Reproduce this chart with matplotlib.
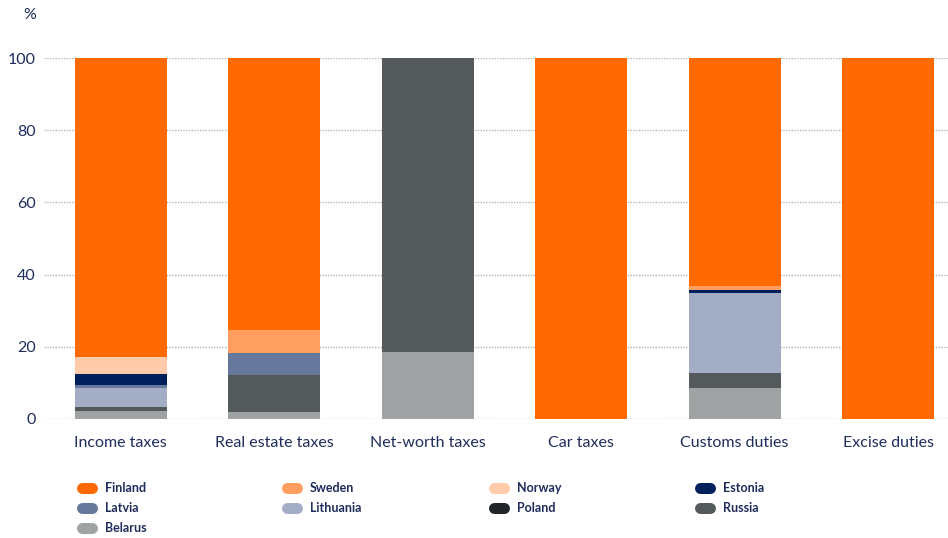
import matplotlib
matplotlib.use("Agg")
import matplotlib.pyplot as plt
from matplotlib.lines import Line2D
import numpy as np

categories = ["Income taxes", "Real estate taxes", "Net-worth taxes", "Car taxes", "Customs duties", "Excise duties"]
countries = ["Finland", "Sweden", "Norway", "Estonia", "Latvia", "Lithuania", "Poland", "Russia", "Belarus"]
colors = ["#FF6A00", "#FF9E5E", "#FFCBAA", "#00205B", "#66789C", "#A3AEC6", "#232629", "#54595C", "#A0A3A3"]

# values per category (stack order bottom -> top: Belarus, Russia, Poland, Lithuania, Latvia, Estonia, Norway, Sweden, Finland)
finland   = [82.9, 75.4, 0.0, 100.0, 63.1, 100.0]
sweden    = [0.0, 6.4, 0.0, 0.0, 1.1, 0.0]
norway    = [4.7, 0.0, 0.0, 0.0, 0.0, 0.0]
estonia   = [3.0, 0.0, 0.0, 0.0, 0.8, 0.0]
latvia    = [0.8, 6.1, 0.0, 0.0, 0.0, 0.0]
lithuania = [5.3, 0.0, 0.0, 0.0, 22.2, 0.0]
poland    = [0.0, 0.0, 0.0, 0.0, 0.0, 0.0]
russia    = [1.1, 10.2, 81.4, 0.0, 4.2, 0.0]
belarus   = [2.2, 1.9, 18.6, 0.0, 8.6, 0.0]

series = {"Finland": finland, "Sweden": sweden, "Norway": norway, "Estonia": estonia,
          "Latvia": latvia, "Lithuania": lithuania, "Poland": poland, "Russia": russia,
          "Belarus": belarus}
yticks = [0, 20, 40, 60, 80, 100]

navy = "#1F2D5C"
plt.rcParams['font.family'] = ['Lato', 'DejaVu Sans']

W, H = 948, 538
fig = plt.figure(figsize=(W/100, H/100), dpi=100)
ax = fig.add_axes([44/W, 1-419/H, 1-44/W, (419-58)/H])

x = np.arange(len(categories))
bottom = np.zeros(len(categories))
for name, col in zip(reversed(countries), reversed(colors)):
    vals = np.array(series[name])
    ax.bar(x, vals, 0.6, bottom=bottom, color=col, zorder=3, linewidth=0)
    bottom += vals

ax.set_xlim(-0.5, 5.39)
ax.set_ylim(0, 100)
ax.set_yticks(yticks)
ax.set_xticks(x)
ax.set_xticklabels(categories)
ax.yaxis.grid(True, color="#B5B5B5", linestyle=(0, (1, 1)), linewidth=1.0, zorder=0)
ax.set_axisbelow(True)
for s in ax.spines.values():
    s.set_visible(False)
ax.tick_params(axis='both', length=0, labelsize=11.5, colors=navy)
ax.tick_params(axis='y', pad=6)
ax.tick_params(axis='x', pad=12)
fig.text(30/W, 1-15/H, "%", ha='center', va='center', fontsize=11.5, color=navy)

# legend: 4 columns, row-major
col_x = [76, 281, 488, 694]
row_y = [488, 508, 528]
for i, (name, col) in enumerate(zip(countries, colors)):
    r, c = divmod(i, 4)
    px, py = col_x[c], row_y[r]
    pill = Line2D([(px + 5.5)/W, (px + 15.5)/W], [1 - py/H, 1 - py/H],
                  transform=fig.transFigure, color=col, lw=11*0.72,
                  solid_capstyle='round')
    fig.add_artist(pill)
    fig.text((px + 29)/W, 1 - py/H, name, ha='left', va='center', fontsize=9,
             fontweight='bold', color=navy)

fig.savefig("out.png", dpi=100)
